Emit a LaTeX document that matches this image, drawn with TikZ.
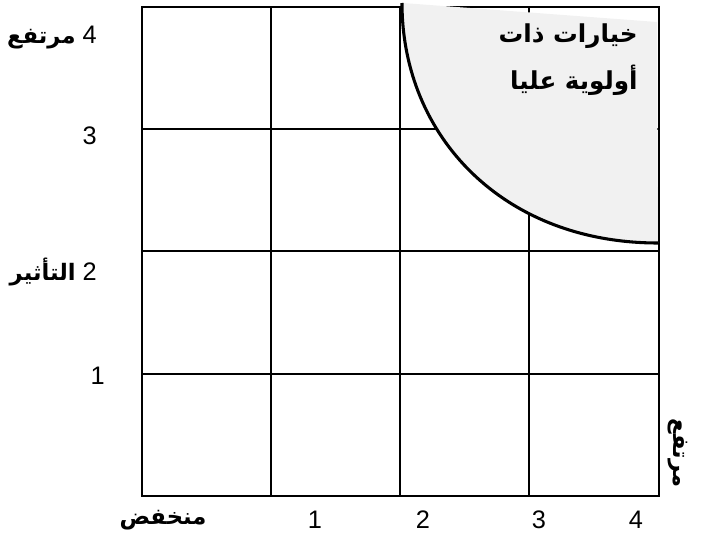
\documentclass[tikz,border=0pt]{standalone}
\usepackage{fontspec}
\setmainfont{Liberation Sans}
\newfontfamily\arabicfont[Script=Arabic]{DejaVu Sans}
\TeXXeTstate=1
\definecolor{zonegrey}{RGB}{241,241,241}
\begin{document}
\begin{tikzpicture}[x=0.75pt,y=-0.75pt,
  gridline/.style={line width=1.1pt, black},
  ar/.style={font=\arabicfont\bfseries\fontsize{17}{20}\selectfont, inner sep=0pt},
  arbig/.style={font=\arabicfont\bfseries\fontsize{18.5}{22}\selectfont, inner sep=0pt},
  num/.style={font=\fontsize{19}{22}\selectfont, inner sep=0pt},
  lbl/.style={font=\fontsize{19}{22}\selectfont, inner sep=0pt}]
\useasboundingbox (0,0) rectangle (701,542);
% grid
\draw[gridline] (142,7) rectangle (659,496);
\foreach \xx in {271,400,529} \draw[gridline] (\xx,7) -- (\xx,496);
\foreach \yy in {129,251,374} \draw[gridline] (142,\yy) -- (659,\yy);
% high priority zone
\fill[zonegrey] (403,3) .. controls (403,137) and (504,243) .. (658,243) -- (657,22) -- cycle;
\draw[line width=2.3pt] (402,3) .. controls (402,137) and (504,243) .. (658,243);
% zone label
\node[arbig, anchor=east] (z1) at (638,36) {\beginR خيارات ذات\endR};
\node[arbig, anchor=east] (z2) at (638,80) {\beginR أولوية عليا\endR};
% y axis labels
\node[lbl, anchor=east] (y4) at (97,38) {{\arabicfont\bfseries\fontsize{17}{20}\selectfont\beginR مرتفع\endR}\ 4};
\node[num, anchor=east] (y3) at (97,136) {3};
\node[lbl, anchor=east] (y2) at (97,272) {{\arabicfont\bfseries\fontsize{17}{20}\selectfont\beginR التأثير\endR}\ 2};
\node[num, anchor=east] (y1) at (105,376) {1};
% x axis labels
\node[ar] (xlow) at (163,520) {\beginR منخفض\endR};
\node[num] (x1) at (315,520) {1};
\node[num] (x2) at (423,520) {2};
\node[num] (x3) at (539,520) {3};
\node[num] (x4) at (636,520) {4};
\node[ar, rotate=-90] (xhigh) at (678,453) {\beginR مرتفع\endR};
\end{tikzpicture}
\end{document}
